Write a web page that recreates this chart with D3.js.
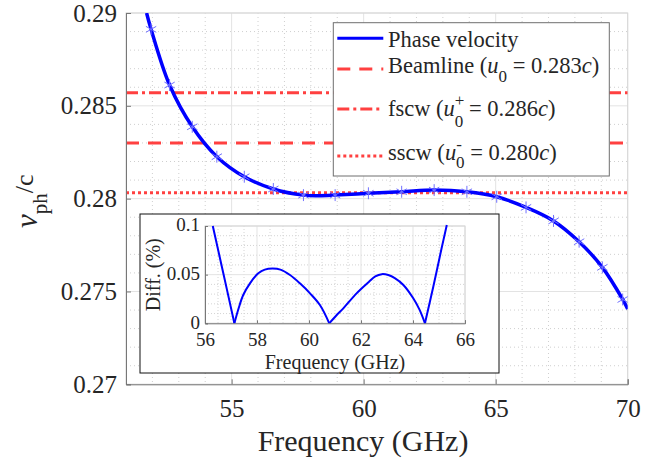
<!DOCTYPE html>
<html lang="en">
<head>
    <meta charset="UTF-8">
    <title>Phase velocity</title>
    <script src="https://d3js.org/d3.v7.min.js"></script>
    <style>
        body {
            margin: 0;
            overflow: hidden;
            background: #fff;
        }
        svg text {
            font-family: "Liberation Serif", "Times New Roman", Times, Tinos, "DejaVu Serif", serif !important;
            fill: #262626;
        }
    </style>
</head>
<body>
    <script>
        // phase velocity (line)
        const lineFreq = [51.78, 51.95, 52.65, 53.51, 54.44, 55.48, 56.58, 57.72, 58.3, 58.92, 60.18, 61.44, 62.67, 63.91, 65.04, 66.15, 67.19, 68.16, 69.04, 69.81, 70.0];
        const lineV    = [0.2900, 0.28912, 0.28612, 0.28387, 0.28226, 0.28118, 0.28052, 0.28019, 0.28016, 0.28019, 0.28029, 0.28037, 0.28046, 0.28037, 0.28010, 0.27953, 0.27880, 0.27768, 0.27630, 0.27457, 0.27405];

        // simulated points (asterisks)
        const markerFreq = [51.95, 52.65, 53.51, 54.44, 55.48, 56.58, 57.72, 58.92, 60.18, 61.44, 62.67, 63.91, 65.04, 66.15, 67.19, 68.16, 69.04, 69.81];
        const markerV    = [0.28912, 0.28612, 0.28387, 0.28226, 0.28118, 0.28052, 0.28019, 0.28019, 0.28029, 0.28037, 0.28046, 0.28037, 0.28010, 0.27953, 0.27880, 0.27768, 0.27630, 0.27457];

        // horizontal reference lines
        const beamline = 0.2830;
        const fscw = 0.2857;
        const sscw = 0.28032;

        // inset: difference (%)
        const diffFreq = [56.30, 56.70, 57.13, 57.30, 57.47, 57.73, 58.05, 58.30, 58.60, 58.90, 59.27, 59.65, 60.04, 60.42, 60.78, 61.05, 61.32, 61.83, 62.30, 62.55, 62.80, 63.05, 63.30, 63.63, 64.01, 64.25, 64.46, 64.78, 65.10, 65.30];
        const diffVal  = [0.100, 0.052, 0, 0.0160, 0.0291, 0.0411, 0.0514, 0.0552, 0.0562, 0.0552, 0.0496, 0.0411, 0.0308, 0.0188, 0, 0.0080, 0.0154, 0.0308, 0.0425, 0.0482, 0.0505, 0.0496, 0.0465, 0.0394, 0.0257, 0.0140, 0, 0.0376, 0.0771, 0.101];

        const xTicks = [55, 60, 65, 70];
        const xTickLabels = ["55", "60", "65", "70"];
        const yTicks = [0.27, 0.275, 0.28, 0.285, 0.29];
        const yTickLabels = ["0.27", "0.275", "0.28", "0.285", "0.29"];
        const ixTicks = [56, 58, 60, 62, 64, 66];
        const ixTickLabels = ["56", "58", "60", "62", "64", "66"];
        const iyTicks = [0, 0.05, 0.1];
        const iyTickLabels = ["0", "0.05", "0.1"];

        const width = 662, height = 459;
        const red = "#ff4040", blue = "#0000ff";
        const serif = '"Liberation Serif", "Times New Roman", Times, Tinos, "DejaVu Serif", serif';

        const svg = d3.select("body").append("svg")
            .attr("width", width)
            .attr("height", height);

        const x = d3.scaleLinear().domain([51, 70]).range([126, 627.7]);
        const y = d3.scaleLinear().domain([0.27, 0.29]).range([384.3, 13]);

        svg.append("defs").append("clipPath")
            .attr("id", "clip")
            .append("rect")
            .attr("x", 126).attr("y", 13)
            .attr("width", 627.7 - 126).attr("height", 384.3 - 13);

        // grid
        const grid = svg.append("g");
        grid.selectAll(".minx").data(d3.range(52, 70).filter(v => v % 5 !== 0))
            .enter().append("line")
            .attr("x1", d => x(d)).attr("x2", d => x(d))
            .attr("y1", 13).attr("y2", 384.3)
            .attr("stroke", "#cfcfcf").attr("stroke-dasharray", "1,3");
        grid.selectAll(".miny").data(d3.range(1, 20).filter(i => i % 5 !== 0).map(i => 0.27 + i * 0.001))
            .enter().append("line")
            .attr("y1", d => y(d)).attr("y2", d => y(d))
            .attr("x1", 126).attr("x2", 627.7)
            .attr("stroke", "#cfcfcf").attr("stroke-dasharray", "1,3");
        grid.selectAll(".majx").data(xTicks)
            .enter().append("line")
            .attr("x1", d => x(d)).attr("x2", d => x(d))
            .attr("y1", 13).attr("y2", 384.3)
            .attr("stroke", "#e3e3e3");
        grid.selectAll(".majy").data(yTicks)
            .enter().append("line")
            .attr("y1", d => y(d)).attr("y2", d => y(d))
            .attr("x1", 126).attr("x2", 627.7)
            .attr("stroke", "#e3e3e3");

        // box
        svg.append("rect")
            .attr("x", 126).attr("y", 13)
            .attr("width", 627.7 - 126).attr("height", 384.3 - 13)
            .attr("fill", "none").attr("stroke", "#d6d6d6");

        const plot = svg.append("g").attr("clip-path", "url(#clip)");

        // reference lines
        plot.append("line")
            .attr("x1", 126).attr("x2", 627.7)
            .attr("y1", y(fscw)).attr("y2", y(fscw))
            .attr("stroke", red).attr("stroke-width", 3)
            .attr("stroke-dasharray", "12,4,3,4");
        plot.append("line")
            .attr("x1", 126).attr("x2", 627.7)
            .attr("y1", y(beamline)).attr("y2", y(beamline))
            .attr("stroke", red).attr("stroke-width", 3)
            .attr("stroke-dasharray", "13,9");
        plot.append("line")
            .attr("x1", 126).attr("x2", 627.7)
            .attr("y1", y(sscw)).attr("y2", y(sscw))
            .attr("stroke", red).attr("stroke-width", 3)
            .attr("stroke-dasharray", "3,3");

        // phase velocity
        const linePts = lineFreq.map((f, i) => [f, lineV[i]]);
        plot.append("path")
            .datum(linePts)
            .attr("fill", "none")
            .attr("stroke", blue)
            .attr("stroke-width", 3.5)
            .attr("d", d3.line().x(d => x(d[0])).y(d => y(d[1])).curve(d3.curveCatmullRom));

        plot.selectAll(".mk").data(markerFreq.map((f, i) => [f, markerV[i]]))
            .enter().append("path")
            .attr("transform", d => `translate(${x(d[0])},${y(d[1])})`)
            .attr("d", d3.symbol(d3.symbolAsterisk, 100))
            .attr("fill", "none")
            .attr("stroke", "#7070ff")
            .attr("stroke-width", 1);

        // axes
        const yAxis = svg.append("g")
            .attr("transform", "translate(126,0)")
            .call(d3.axisLeft(y).tickValues(yTicks).tickFormat((d, i) => yTickLabels[i]).tickSize(-5).tickPadding(9));
        const xAxis = svg.append("g")
            .attr("transform", "translate(0,384.3)")
            .call(d3.axisBottom(x).tickValues(xTicks).tickFormat((d, i) => xTickLabels[i]).tickSize(-5).tickPadding(15));
        [xAxis, yAxis].forEach(a => {
            a.attr("font-family", serif).attr("font-size", 25);
            a.select(".domain").attr("stroke", "#777");
            a.selectAll(".tick line").attr("stroke", "#777");
            a.selectAll("text").attr("fill", "#262626");
        });

        svg.append("text")
            .attr("x", 363).attr("y", 451)
            .attr("text-anchor", "middle")
            .attr("font-size", 30)
            .text("Frequency (GHz)");

        const yl = svg.append("text")
            .attr("transform", "translate(37,228) rotate(-90)")
            .attr("font-size", 31);
        yl.append("tspan").style("font-style", "italic").text("v");
        yl.append("tspan").attr("dy", 10).attr("font-size", 21).text("ph");
        yl.append("tspan").attr("dy", -14).attr("font-size", 26).text("/c");

        // legend
        const lg = svg.append("g");
        lg.append("rect")
            .attr("x", 333.3).attr("y", 22.7)
            .attr("width", 609.3 - 333.3).attr("height", 176 - 22.7)
            .attr("fill", "#fff").attr("stroke", "#6f6f6f");
        const entries = [
            {ly: 38.3, ty: 46.5, dash: null, color: blue},
            {ly: 69, ty: 73.3, dash: "13,9", color: red},
            {ly: 109, ty: 116, dash: "12,4,3,4", color: red},
            {ly: 156, ty: 160, dash: "3,3", color: red}
        ];
        entries.forEach(e => {
            lg.append("line")
                .attr("x1", 337.3).attr("x2", 383.3)
                .attr("y1", e.ly).attr("y2", e.ly)
                .attr("stroke", e.color).attr("stroke-width", 3)
                .attr("stroke-dasharray", e.dash);
        });
        const fs = 22.5;
        const t0 = lg.append("text").attr("x", 388).attr("y", entries[0].ty).attr("font-size", fs);
        t0.text("Phase velocity");

        const t1 = lg.append("text").attr("x", 388).attr("y", entries[1].ty).attr("font-size", fs);
        t1.append("tspan").text("Beamline (");
        t1.append("tspan").style("font-style", "italic").text("u");
        t1.append("tspan").attr("dy", 8.4).attr("font-size", 17).text("0");
        t1.append("tspan").attr("dy", -8.4).text(" = 0.283");
        t1.append("tspan").style("font-style", "italic").text("c");
        t1.append("tspan").text(")");

        const t2 = lg.append("text").attr("x", 388).attr("y", entries[2].ty).attr("font-size", fs);
        t2.append("tspan").text("fscw (");
        t2.append("tspan").style("font-style", "italic").text("u");
        t2.append("tspan").attr("dy", -10).attr("font-size", 17).text("+");
        t2.append("tspan").attr("dx", -9.6).attr("dy", 20.7).attr("font-size", 17).text("0");
        t2.append("tspan").attr("dy", -10.7).text(" = 0.286");
        t2.append("tspan").style("font-style", "italic").text("c");
        t2.append("tspan").text(")");

        const t3 = lg.append("text").attr("x", 388).attr("y", entries[3].ty).attr("font-size", fs);
        t3.append("tspan").text("sscw (");
        t3.append("tspan").style("font-style", "italic").text("u");
        t3.append("tspan").attr("dy", -10).attr("font-size", 17).text("-");
        t3.append("tspan").attr("dx", -5.7).attr("dy", 18).attr("font-size", 17).text("0");
        t3.append("tspan").attr("dy", -8).text(" = 0.280");
        t3.append("tspan").style("font-style", "italic").text("c");
        t3.append("tspan").text(")");

        // inset
        const ins = svg.append("g");
        ins.append("rect")
            .attr("x", 140).attr("y", 214)
            .attr("width", 499 - 140).attr("height", 373 - 214)
            .attr("fill", "#fff").attr("stroke", "#111");

        const ix = d3.scaleLinear().domain([56, 66]).range([205, 465]);
        const iy = d3.scaleLinear().domain([0, 0.1]).range([323.3, 226]);

        ins.selectAll(".iminx").data(d3.range(56.5, 66, 0.5).filter(v => v % 2 !== 0))
            .enter().append("line")
            .attr("x1", d => ix(d)).attr("x2", d => ix(d))
            .attr("y1", 226).attr("y2", 323.3)
            .attr("stroke", "#d4d4d4").attr("stroke-dasharray", "1,2");
        ins.selectAll(".iminy").data([1, 2, 3, 4, 6, 7, 8, 9].map(i => i * 0.01))
            .enter().append("line")
            .attr("y1", d => iy(d)).attr("y2", d => iy(d))
            .attr("x1", 205).attr("x2", 465)
            .attr("stroke", "#d4d4d4").attr("stroke-dasharray", "1,2");
        ins.selectAll(".imajx").data(ixTicks)
            .enter().append("line")
            .attr("x1", d => ix(d)).attr("x2", d => ix(d))
            .attr("y1", 226).attr("y2", 323.3)
            .attr("stroke", "#e3e3e3");
        ins.selectAll(".imajy").data(iyTicks)
            .enter().append("line")
            .attr("y1", d => iy(d)).attr("y2", d => iy(d))
            .attr("x1", 205).attr("x2", 465)
            .attr("stroke", "#e3e3e3");
        ins.append("rect")
            .attr("x", 205).attr("y", 226)
            .attr("width", 260).attr("height", 323.3 - 226)
            .attr("fill", "none").attr("stroke", "#d6d6d6");

        // split the |diff| curve at its zeros so the cusps stay sharp
        const segs = [];
        let cur = [];
        diffFreq.forEach((f, i) => {
            cur.push([f, diffVal[i]]);
            if (diffVal[i] === 0 && cur.length > 1) {
                segs.push(cur);
                cur = [[f, 0]];
            }
        });
        segs.push(cur);
        const dline = d3.line().x(d => ix(d[0])).y(d => iy(d[1])).curve(d3.curveCatmullRom);
        ins.selectAll(".seg").data(segs)
            .enter().append("path")
            .attr("fill", "none")
            .attr("stroke", blue)
            .attr("stroke-width", 2)
            .attr("d", dline);

        const iyAxis = ins.append("g")
            .attr("transform", "translate(205,0)")
            .call(d3.axisLeft(iy).tickValues(iyTicks).tickFormat((d, i) => iyTickLabels[i]).tickSize(-3).tickPadding(5));
        const ixAxis = ins.append("g")
            .attr("transform", "translate(0,323.3)")
            .call(d3.axisBottom(ix).tickValues(ixTicks).tickFormat((d, i) => ixTickLabels[i]).tickSize(-3).tickPadding(9));
        [ixAxis, iyAxis].forEach(a => {
            a.attr("font-family", serif).attr("font-size", 19);
            a.select(".domain").attr("stroke", "#777");
            a.selectAll(".tick line").attr("stroke", "#777");
            a.selectAll("text").attr("fill", "#262626");
        });
        iyAxis.selectAll("text").attr("dy", "0.25em");
        ins.append("text")
            .attr("x", 335).attr("y", 369)
            .attr("text-anchor", "middle")
            .attr("font-size", 20)
            .text("Frequency (GHz)");
        ins.append("text")
            .attr("transform", "translate(160,274.7) rotate(-90)")
            .attr("text-anchor", "middle")
            .attr("font-size", 20)
            .text("Diff. (%)");
    </script>
</body>
</html>
